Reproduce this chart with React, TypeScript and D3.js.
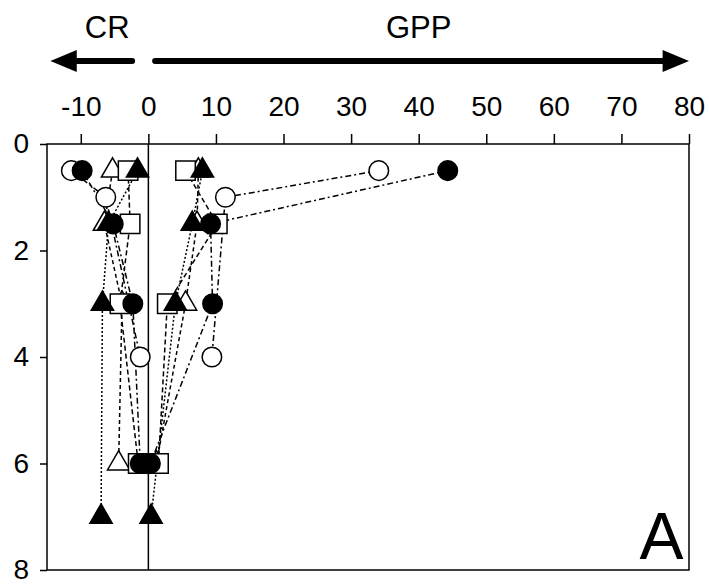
import React, { useRef, useEffect } from "react";
import * as d3 from "d3";

const xTicks = [-10, 0, 10, 20, 30, 40, 50, 60, 70, 80];
const yTicks = [0, 2, 4, 6, 8];

// depth and CR / GPP for each station (marker)
const openCircleDepth = [0.5, 1, 4];
const openCircleCR = [-11.4, -6.3, -1.2];
const openCircleGPP = [34.1, 11.4, 9.4];

const filledCircleDepth = [0.5, 1.5, 3, 6];
const filledCircleCR = [-9.8, -5.2, -2.3, -1.2];
const filledCircleGPP = [44.3, 9.2, 9.5, 0.3];

const openTriangleDepth = [0.5, 1.5, 3, 6];
const openTriangleCR = [-5.3, -6.5, -3.9, -4.4];
const openTriangleGPP = [7.4, 7.2, 5.5, 1.2];

const filledTriangleDepth = [0.5, 1.5, 3, 7];
const filledTriangleCR = [-1.6, -5.9, -6.8, -7.0];
const filledTriangleGPP = [8.0, 6.5, 4.0, 0.4];

const openSquareDepth = [0.5, 1.5, 3, 6];
const openSquareCR = [-3.0, -2.7, -4.2, -1.5];
const openSquareGPP = [5.5, 10.2, 2.8, 1.5];

const series = [
  { depth: openCircleDepth, cr: openCircleCR, gpp: openCircleGPP, shape: d3.symbolCircle, size: 300, fill: "white", dash: "6,3,2,3" },
  { depth: openTriangleDepth, cr: openTriangleCR, gpp: openTriangleGPP, shape: d3.symbolTriangle, size: 215, fill: "white", dash: "4,3" },
  { depth: openSquareDepth, cr: openSquareCR, gpp: openSquareGPP, shape: d3.symbolSquare, size: 380, fill: "white", dash: "5,3" },
  { depth: filledCircleDepth, cr: filledCircleCR, gpp: filledCircleGPP, shape: d3.symbolCircle, size: 300, fill: "black", dash: "6,3,2,3" },
  { depth: filledTriangleDepth, cr: filledTriangleCR, gpp: filledTriangleGPP, shape: d3.symbolTriangle, size: 215, fill: "black", dash: "2,2" },
];

const font = "'Liberation Sans', Arial, sans-serif";

const App = () => {
  const svgRef = useRef<SVGSVGElement>(null);

  useEffect(() => {
    const width = 709;
    const height = 588;
    const marginLeft = 47;
    const marginRight = 20;
    const marginTop = 144;
    const marginBottom = 18;

    const x = d3.scaleLinear().domain([-15, 80]).range([marginLeft, width - marginRight]);
    const y = d3.scaleLinear().domain([0, 8]).range([marginTop, height - marginBottom]);

    const svg = d3.select(svgRef.current);
    svg.selectAll("*").remove();
    svg
      .attr("width", width)
      .attr("height", height)
      .attr("viewBox", [0, 0, width, height].join(" "));

    // frame
    svg.append("rect")
      .attr("x", x(-15))
      .attr("y", y(0))
      .attr("width", x(80) - x(-15))
      .attr("height", y(8) - y(0))
      .attr("fill", "none")
      .attr("stroke", "black")
      .attr("stroke-width", 1.5);

    // zero line
    svg.append("line")
      .attr("x1", x(0)).attr("x2", x(0))
      .attr("y1", y(0)).attr("y2", y(8))
      .attr("stroke", "black")
      .attr("stroke-width", 1.5);

    // top axis
    svg.append("g")
      .attr("transform", `translate(0,${y(0)})`)
      .call(d3.axisTop(x).tickValues(xTicks).tickFormat(d => String(d)).tickSize(10).tickSizeOuter(0).tickPadding(18))
      .call(g => g.select(".domain").remove())
      .call(g => g.selectAll("line").attr("stroke-width", 1.5))
      .call(g => g.selectAll("text")
        .attr("font-family", font)
        .attr("font-size", 28)
        .attr("fill", "black"));

    // left axis
    svg.append("g")
      .attr("transform", `translate(${x(-15)},0)`)
      .call(d3.axisLeft(y).tickValues(yTicks).tickFormat(d => String(d)).tickSize(7).tickSizeOuter(0).tickPadding(11))
      .call(g => g.select(".domain").remove())
      .call(g => g.selectAll("line").attr("stroke-width", 1.5))
      .call(g => g.selectAll("text")
        .attr("font-family", font)
        .attr("font-size", 28)
        .attr("fill", "black"));

    // CR / GPP arrows
    const arrowY = 61;
    svg.append("line")
      .attr("x1", x(-11)).attr("x2", x(-2.4))
      .attr("y1", arrowY).attr("y2", arrowY)
      .attr("stroke", "black").attr("stroke-width", 6).attr("stroke-linecap", "round");
    svg.append("path")
      .attr("d", `M${x(-14.5)},${arrowY}L${x(-10.6)},${arrowY - 11}L${x(-10.6)},${arrowY + 11}Z`)
      .attr("fill", "black");
    svg.append("line")
      .attr("x1", x(1)).attr("x2", x(77))
      .attr("y1", arrowY).attr("y2", arrowY)
      .attr("stroke", "black").attr("stroke-width", 6).attr("stroke-linecap", "round");
    svg.append("path")
      .attr("d", `M${x(80)},${arrowY}L${x(76.1)},${arrowY - 11}L${x(76.1)},${arrowY + 11}Z`)
      .attr("fill", "black");

    svg.append("text")
      .attr("x", x(-6.1)).attr("y", 38)
      .attr("text-anchor", "middle")
      .attr("font-family", font).attr("font-size", 31)
      .text("CR");
    svg.append("text")
      .attr("x", x(40)).attr("y", 38)
      .attr("text-anchor", "middle")
      .attr("font-family", font).attr("font-size", 31)
      .text("GPP");

    svg.append("text")
      .attr("x", x(79.2)).attr("y", y(7.8))
      .attr("text-anchor", "end")
      .attr("font-family", font)
      .attr("font-size", 66)
      .text("A");

    // profile lines
    const line = d3.line<[number, number]>()
      .x(d => x(d[0]))
      .y(d => y(d[1]));

    const lines = svg.append("g")
      .attr("fill", "none")
      .attr("stroke", "black")
      .attr("stroke-width", 1.5);

    series.forEach(s => {
      [s.cr, s.gpp].forEach(vals => {
        lines.append("path")
          .attr("d", line(vals.map((v, i) => [v, s.depth[i]] as [number, number])))
          .attr("stroke-dasharray", s.dash);
      });
    });

    // markers
    const markers = svg.append("g");
    series.forEach(s => {
      const sym = d3.symbol().type(s.shape).size(s.size);
      const pts = [
        ...s.cr.map((v, i) => [v, s.depth[i]]),
        ...s.gpp.map((v, i) => [v, s.depth[i]]),
      ];
      markers.append("g")
        .selectAll("path")
        .data(pts)
        .join("path")
        .attr("transform", d => `translate(${x(d[0])},${y(d[1])})`)
        .attr("d", sym() as string)
        .attr("fill", s.fill)
        .attr("stroke", "black")
        .attr("stroke-width", 1.5);
    });
  }, []);

  return (
    <div style={{ position: "absolute", left: 0, top: 0 }}>
      <svg ref={svgRef} style={{ display: "block" }}></svg>
    </div>
  );
};

export default App;
